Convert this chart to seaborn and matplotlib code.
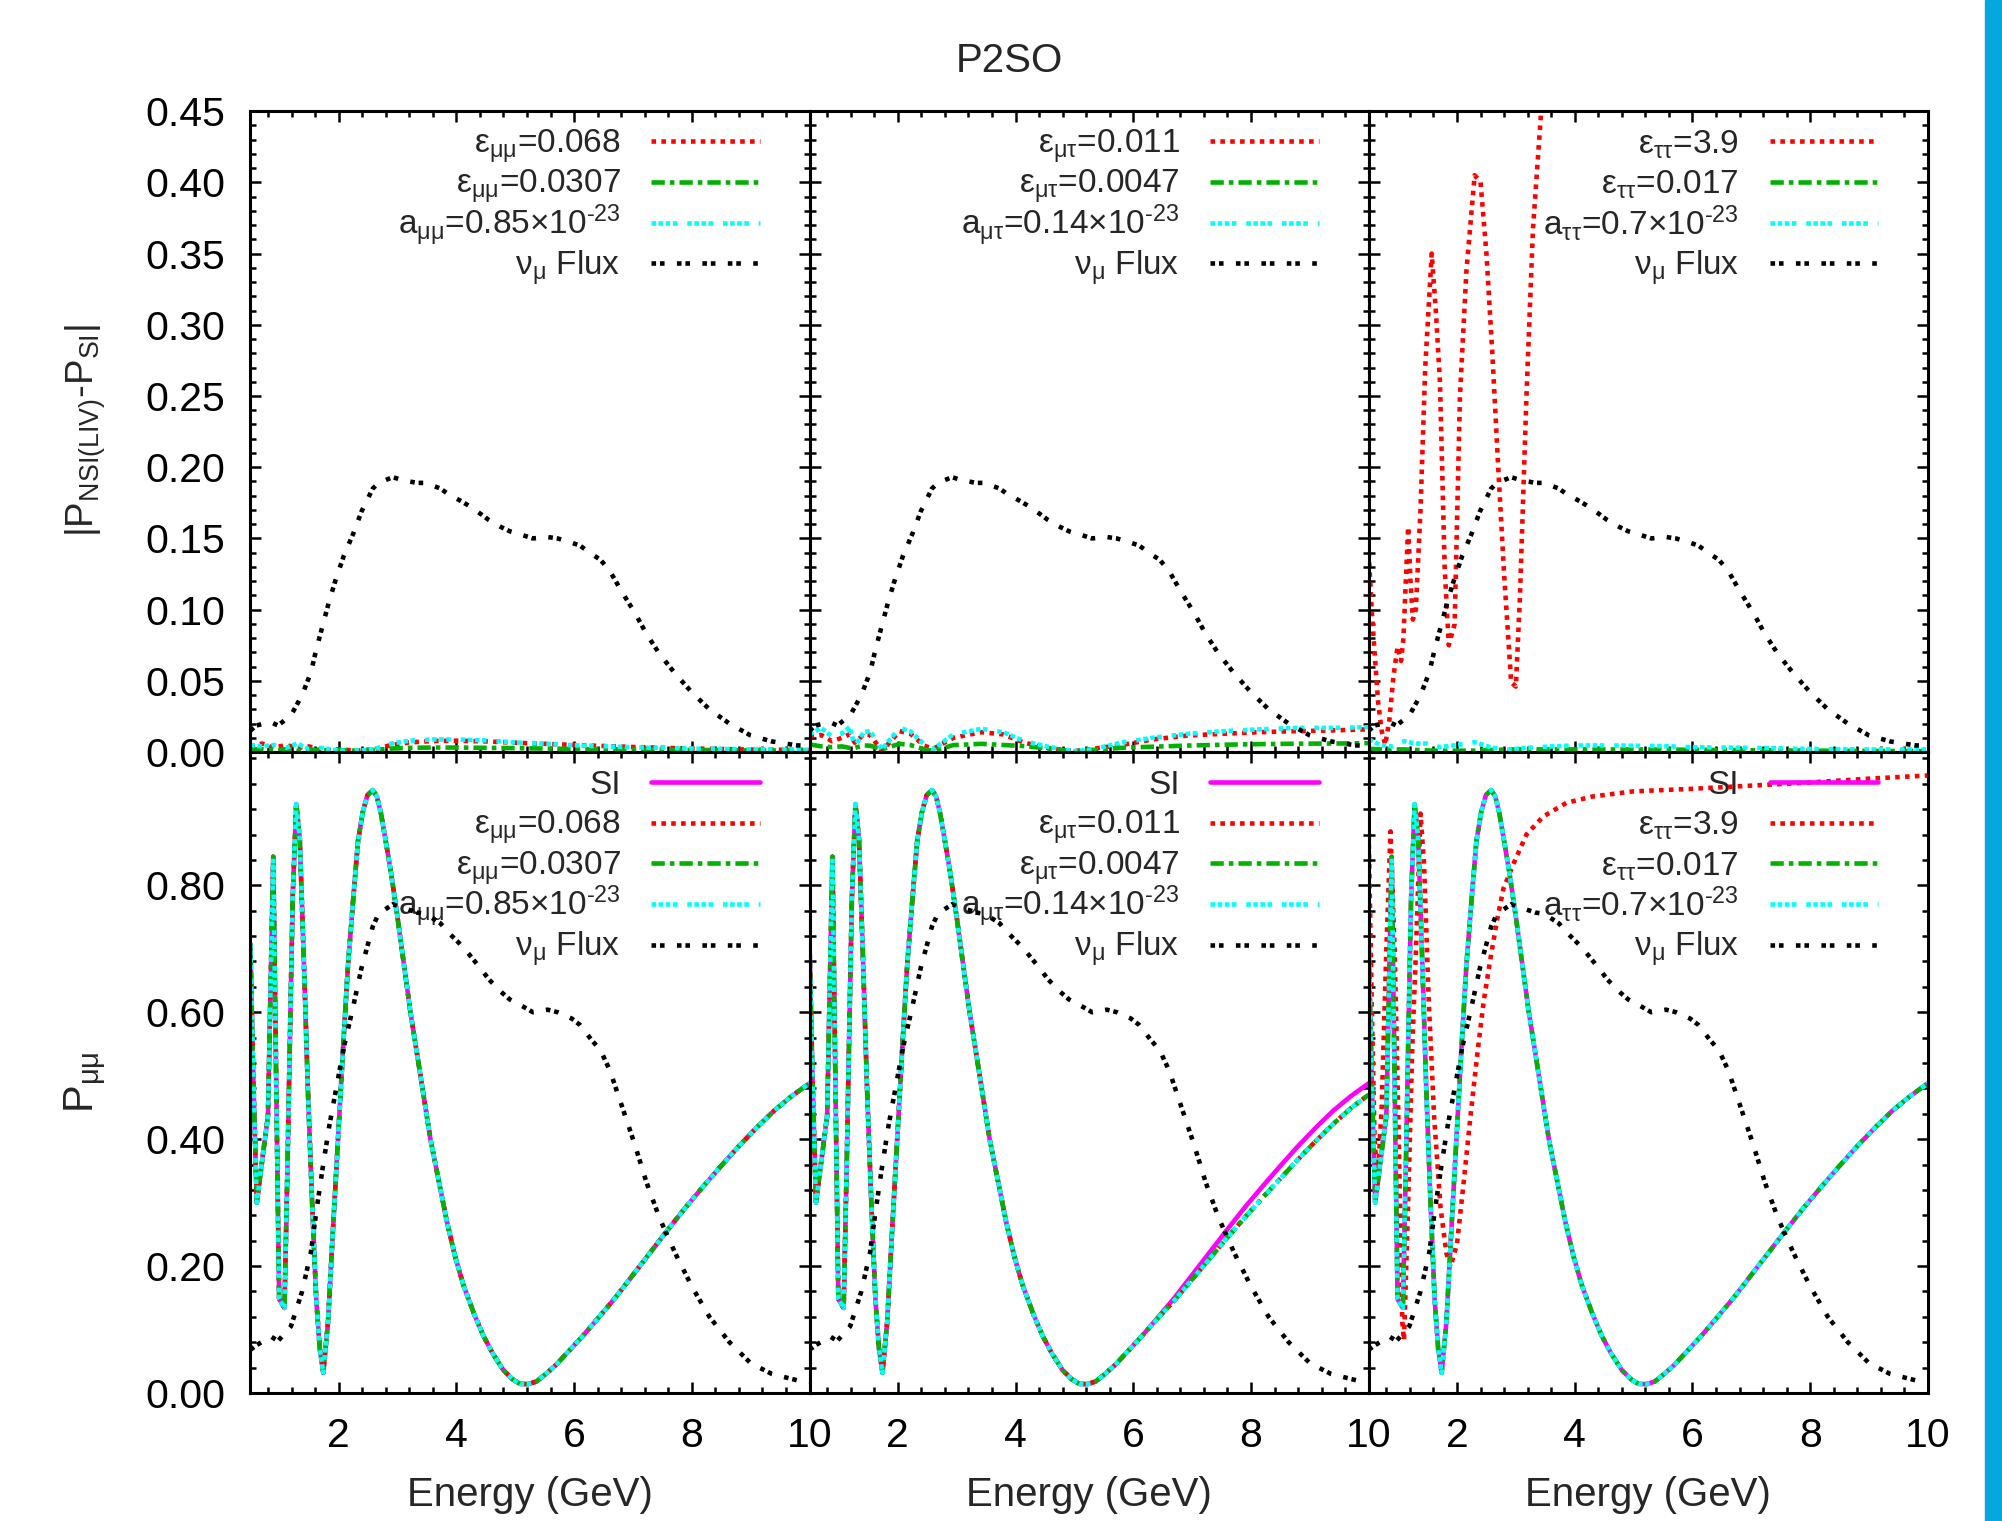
import matplotlib
matplotlib.use("Agg")
import matplotlib.pyplot as plt
from matplotlib.ticker import MultipleLocator, FixedLocator, FormatStrFormatter
from matplotlib.patches import Rectangle
from matplotlib.lines import Line2D
import seaborn as sns

# ---- data ----
# energy grid (GeV) of the P_mumu curves
energy = [0.50, 0.55, 0.61, 0.70, 0.80, 0.84, 0.89, 0.94, 0.99, 1.08,
          1.13, 1.17, 1.22, 1.28, 1.34, 1.41, 1.48, 1.55, 1.62, 1.68,
          1.74, 1.82, 1.90, 1.99, 2.08, 2.16, 2.25, 2.33, 2.41, 2.49,
          2.58, 2.65, 2.72, 2.80, 2.89, 3.00, 3.11, 3.22, 3.34, 3.45,
          3.56, 3.70, 3.84, 3.98, 4.12, 4.30, 4.46, 4.62, 4.80, 4.95,
          5.08, 5.22, 5.36, 5.52, 5.70, 5.90, 6.15, 6.40, 6.70, 7.00,
          7.30, 7.60, 7.90, 8.20, 8.50, 8.80, 9.10, 9.40, 9.70, 10.00]

# standard interactions P_mumu (the NSI/LIV mumu and tautau cases sit on it)
p_si = [0.708, 0.50, 0.30, 0.365, 0.437, 0.62, 0.845, 0.49, 0.148, 0.134,
        0.35, 0.545, 0.78, 0.928, 0.874, 0.68, 0.473, 0.30, 0.148, 0.07,
        0.032, 0.112, 0.25, 0.40, 0.55, 0.675, 0.78, 0.87, 0.915, 0.942,
        0.95, 0.94, 0.913, 0.87, 0.82, 0.75, 0.675, 0.60, 0.53, 0.465,
        0.40, 0.335, 0.27, 0.215, 0.17, 0.125, 0.09, 0.062, 0.036, 0.022,
        0.0144, 0.014, 0.018, 0.03, 0.045, 0.065, 0.09, 0.117, 0.150, 0.186,
        0.222, 0.258, 0.293, 0.326, 0.358, 0.389, 0.418, 0.445, 0.468, 0.488]

# mu-tau NSI / LIV cases (slightly below SI at high energy)
p_mt = [0.708, 0.50, 0.30, 0.365, 0.437, 0.62, 0.845, 0.49, 0.148, 0.134,
        0.35, 0.545, 0.78, 0.928, 0.874, 0.68, 0.473, 0.30, 0.148, 0.07,
        0.032, 0.112, 0.25, 0.40, 0.55, 0.675, 0.78, 0.87, 0.915, 0.942,
        0.95, 0.94, 0.913, 0.87, 0.82, 0.75, 0.675, 0.60, 0.53, 0.465,
        0.40, 0.335, 0.27, 0.215, 0.17, 0.125, 0.09, 0.062, 0.036, 0.022,
        0.0144, 0.014, 0.018, 0.03, 0.045, 0.065, 0.09, 0.116, 0.146, 0.179,
        0.212, 0.245, 0.277, 0.308, 0.338, 0.368, 0.397, 0.424, 0.449, 0.470]

# eps_tautau = 3.9 P_mumu
energy_tt = [0.50, 0.55, 0.60, 0.65, 0.72, 0.80, 0.87, 0.94, 1.00, 1.07,
             1.10, 1.17, 1.24, 1.30, 1.38, 1.44, 1.52, 1.61, 1.72, 1.82,
             1.89, 2.00, 2.11, 2.23, 2.34, 2.45, 2.56, 2.68, 2.79, 2.96,
             3.18, 3.46, 3.86, 4.31, 5.0, 6.0, 7.0, 8.0, 9.0, 10.0]
p_tt_big = [0.88, 0.62, 0.40, 0.33, 0.45, 0.70, 0.885, 0.70, 0.45, 0.112,
            0.083, 0.30, 0.545, 0.69, 0.913, 0.834, 0.617, 0.437, 0.292, 0.22,
            0.199, 0.235, 0.329, 0.437, 0.53, 0.615, 0.68, 0.745, 0.795, 0.834,
            0.88, 0.908, 0.93, 0.94, 0.948, 0.952, 0.957, 0.962, 0.968, 0.973]

# nu_mu flux (arbitrary units, two scalings)
energy_flux = [0.5, 0.6, 0.85, 0.97, 1.19, 1.38, 1.53, 1.62, 1.73, 1.84,
               1.95, 2.09, 2.25, 2.39, 2.58, 2.68, 2.92, 3.08, 3.33, 3.48,
               3.73, 3.85, 4.09, 4.21, 4.42, 4.55, 4.76, 4.91, 5.15, 5.30,
               5.55, 5.72, 5.96, 6.10, 6.30, 6.45, 6.61, 6.82, 7.03, 7.23,
               7.45, 7.72, 8.0, 8.30, 8.64, 9.0, 9.36, 9.79, 10.0]
flux_top = [0.015, 0.0187, 0.021, 0.0187, 0.0257, 0.040, 0.056, 0.072, 0.089, 0.106,
            0.121, 0.138, 0.1535, 0.169, 0.185, 0.189, 0.193, 0.191, 0.189, 0.189,
            0.185, 0.1815, 0.176, 0.173, 0.167, 0.163, 0.158, 0.155, 0.152, 0.150,
            0.151, 0.150, 0.147, 0.145, 0.139, 0.135, 0.127, 0.112, 0.098, 0.083,
            0.069, 0.055, 0.042, 0.030, 0.020, 0.0117, 0.0075, 0.0047, 0.0045]
flux_bottom = [0.068, 0.075, 0.089, 0.082, 0.105, 0.16, 0.222, 0.285, 0.355, 0.42,
               0.475, 0.545, 0.61, 0.67, 0.735, 0.755, 0.77, 0.765, 0.757, 0.755,
               0.74, 0.727, 0.705, 0.692, 0.668, 0.652, 0.632, 0.62, 0.608, 0.600,
               0.604, 0.600, 0.59, 0.58, 0.556, 0.54, 0.508, 0.45, 0.392, 0.332,
               0.276, 0.22, 0.168, 0.12, 0.08, 0.047, 0.03, 0.02, 0.018]

# |P_NSI(LIV) - P_SI|
energy_diff = [0.5, 0.7, 0.9, 1.1, 1.3, 1.5, 1.7, 2.0, 2.3, 2.6, 2.9,
               3.2, 3.6, 4.0, 4.5, 5.0, 5.5, 6.0, 7.0, 8.0, 9.0, 10.0]
d_mm_eps1 = [0.004, 0.006, 0.003, 0.005, 0.003, 0.004, 0.001, 0.002, 0.001, 0.002, 0.005,
             0.0068, 0.0078, 0.008, 0.0075, 0.0066, 0.0058, 0.005, 0.0036, 0.0025, 0.0018, 0.0015]
d_mm_eps2 = [0.002, 0.002, 0.001, 0.002, 0.001, 0.002, 0.001, 0.0015, 0.001, 0.0015, 0.0025,
             0.003, 0.0032, 0.0032, 0.003, 0.0028, 0.0025, 0.0022, 0.0018, 0.0015, 0.0012, 0.001]
d_mm_liv = [0.005, 0.004, 0.005, 0.003, 0.006, 0.002, 0.003, 0.001, 0.001, 0.002, 0.006,
            0.008, 0.0089, 0.0089, 0.0082, 0.0068, 0.006, 0.0048, 0.0034, 0.0025, 0.002, 0.0016]
d_tt_eps2 = [0.0023, 0.002, 0.0019, 0.0019, 0.0015, 0.0012, 0.001, 0.001, 0.001, 0.0015, 0.0019,
             0.0019, 0.0019, 0.0019, 0.0019, 0.0019, 0.0018, 0.0016, 0.0013, 0.001, 0.0008, 0.0007]
d_tt_liv = [0.009, 0.005, 0.004, 0.0077, 0.006, 0.006, 0.0035, 0.005, 0.007, 0.003, 0.0019,
            0.003, 0.004, 0.0047, 0.0047, 0.0045, 0.0042, 0.0035, 0.003, 0.0022, 0.0019, 0.0019]

energy_mt = [0.5, 0.7, 0.88, 1.05, 1.18, 1.27, 1.42, 1.53, 1.73, 2.03, 2.21, 2.45, 2.6, 2.94,
             3.42, 3.79, 4.15, 4.58, 5.0, 5.3, 5.79, 6.33, 6.94, 7.55, 8.15, 8.76, 9.36, 10.0]
d_mt_eps1 = [0.011, 0.012, 0.0077, 0.010, 0.0125, 0.0066, 0.0124, 0.012, 0.0007, 0.0147,
             0.013, 0.0045, 0.0023, 0.010, 0.014, 0.0124, 0.0066, 0.0026, 0.0007, 0.0023,
             0.0049, 0.0089, 0.0117, 0.0129, 0.014, 0.0147, 0.0152, 0.016]
d_mt_eps2 = [0.0054, 0.004, 0.0035, 0.004, 0.003, 0.003, 0.0047, 0.0045, 0.002, 0.0058,
             0.005, 0.002, 0.0007, 0.0049, 0.0058, 0.005, 0.0042, 0.0025, 0.0005, 0.0015,
             0.003, 0.0038, 0.0046, 0.0052, 0.0056, 0.0059, 0.006, 0.0063]
d_mt_liv = [0.0124, 0.017, 0.011, 0.013, 0.0175, 0.004, 0.014, 0.0147, 0.002, 0.017,
            0.0147, 0.0054, 0.002, 0.0124, 0.0164, 0.014, 0.0077, 0.0035, 0.0007, 0.0019,
            0.0066, 0.0101, 0.0129, 0.0147, 0.016, 0.017, 0.017, 0.0175]

energy_tt_diff = [0.50, 0.55, 0.60, 0.66, 0.72, 0.78, 0.85, 0.92, 0.99, 1.05,
                  1.09, 1.13, 1.17, 1.21, 1.25, 1.30, 1.38, 1.46, 1.57, 1.64,
                  1.71, 1.79, 1.86, 1.96, 2.05, 2.16, 2.30, 2.40, 2.50, 2.60,
                  2.70, 2.80, 2.92, 3.00, 3.07, 3.18, 3.29, 3.43, 3.55]
d_tt_eps1 = [0.14, 0.10, 0.07, 0.035, 0.015, 0.005, 0.022, 0.053, 0.074, 0.064,
             0.08, 0.12, 0.158, 0.12, 0.093, 0.10, 0.17, 0.27, 0.35, 0.31,
             0.26, 0.13, 0.075, 0.09, 0.25, 0.338, 0.405, 0.40, 0.35, 0.28,
             0.20, 0.125, 0.049, 0.046, 0.11, 0.25, 0.367, 0.45, 0.55]

# legend texts
keys_mm = [r'ε$_{\mathrm{μμ}}$=0.068', r'ε$_{\mathrm{μμ}}$=0.0307',
           r'a$_{\mathrm{μμ}}$=0.85×10$^{\text{-23}}$']
keys_mt = [r'ε$_{\mathrm{μτ}}$=0.011', r'ε$_{\mathrm{μτ}}$=0.0047',
           r'a$_{\mathrm{μτ}}$=0.14×10$^{\text{-23}}$']
keys_tt = [r'ε$_{\mathrm{ττ}}$=3.9', r'ε$_{\mathrm{ττ}}$=0.017',
           r'a$_{\mathrm{ττ}}$=0.7×10$^{\text{-23}}$']
flux_key = r'ν$_{\mathrm{μ}}$ Flux'

# ---- style ----
sns.set_theme(style="ticks")
plt.rcParams['font.family'] = ['Liberation Sans', 'DejaVu Sans']
plt.rcParams['mathtext.fontset'] = 'custom'
plt.rcParams['mathtext.rm'] = 'Liberation Sans'
plt.rcParams['mathtext.it'] = 'Liberation Sans:italic'
plt.rcParams['mathtext.bf'] = 'Liberation Sans:bold'
plt.rcParams['axes.linewidth'] = 2.2
plt.rcParams['axes.edgecolor'] = 'black'

LW = 3.3
s_si = dict(color='#ff00ff', linewidth=LW, linestyle='-')
s_e1 = dict(color='#ff0000', linewidth=LW, linestyle=(0, (1, 1.15)))
s_e2 = dict(color='#00b200', linewidth=LW, linestyle=(0, (2.9, 1.1, 1, 1.1)))
s_liv = dict(color='#00ffff', linewidth=LW, linestyle=(0, (1, 0.55, 1, 0.55, 1, 0.55, 1, 2.15)))
s_flux = dict(color='black', linewidth=LW, linestyle=(0, (1, 0.85, 1, 2.7)))

fig = plt.figure(figsize=(20.02, 15.21), dpi=100)
lefts = [0.12503, 0.40435, 0.68367]
width = 0.27932
height = 0.42143
AX_H_PX = 641.0


def draw(ax, x, y, style):
    sns.lineplot(x=x, y=y, ax=ax, estimator=None, sort=False, legend=False, **style)
    line = ax.get_lines()[-1]
    line.set_dash_capstyle('butt')
    return line


def add_key(ax, styles, labels):
    # gnuplot-like key: right-justified text, sample to its right
    for j, (st, lab) in enumerate(zip(styles, labels)):
        y = 1 - (30 + 40.7 * j) / AX_H_PX
        ax.text(0.662, y - 12 / AX_H_PX, lab, transform=ax.transAxes,
                ha='right', va='baseline', fontsize=24, zorder=1)
        sample = Line2D([0.717, 0.911], [y, y], transform=ax.transAxes,
                        clip_on=False, zorder=3, dash_capstyle='butt', **st)
        ax.add_line(sample)


def style_axes(ax, top, first):
    ax.set_xlim(0.5, 10)
    ax.xaxis.set_major_locator(FixedLocator([2, 4, 6, 8, 10]))
    ax.xaxis.set_minor_locator(MultipleLocator(0.4))
    if top:
        ax.set_ylim(0, 0.45)
        ax.yaxis.set_major_locator(MultipleLocator(0.05))
        ax.yaxis.set_minor_locator(MultipleLocator(0.01))
    else:
        ax.set_ylim(0, 1.01)
        ax.yaxis.set_major_locator(FixedLocator([0, 0.2, 0.4, 0.6, 0.8]))
        ax.yaxis.set_minor_locator(MultipleLocator(0.04))
    ax.yaxis.set_major_formatter(FormatStrFormatter('%.2f'))
    ax.tick_params(which='both', direction='in', top=True, right=True,
                   colors='black', width=1.8, labelsize=29.5)
    ax.tick_params(which='major', length=8)
    ax.tick_params(which='minor', length=4)
    ax.tick_params(axis='x', pad=17)
    ax.tick_params(axis='y', pad=18)
    ax.tick_params(labelbottom=not top, labelleft=first)
    ax.set_xlabel('')
    ax.set_ylabel('')
    for sp in ax.spines.values():
        sp.set_visible(True)
        sp.set_linewidth(2.2)


panels = [
    (keys_mm, [(energy_diff, d_mm_eps1), (energy_diff, d_mm_eps2), (energy_diff, d_mm_liv)],
     [(energy, p_si), (energy, p_si), (energy, p_si)]),
    (keys_mt, [(energy_mt, d_mt_eps1), (energy_mt, d_mt_eps2), (energy_mt, d_mt_liv)],
     [(energy, p_mt), (energy, p_mt), (energy, p_mt)]),
    (keys_tt, [(energy_tt_diff, d_tt_eps1), (energy_diff, d_tt_eps2), (energy_diff, d_tt_liv)],
     [(energy_tt, p_tt_big), (energy, p_si), (energy, p_si)]),
]

for i, (keys, diffs, probs) in enumerate(panels):
    ax_t = fig.add_axes([lefts[i], 0.50552, width, height])
    ax_b = fig.add_axes([lefts[i], 0.08416, width, height])

    for (x, y), st in zip(diffs, [s_e1, s_e2, s_liv]):
        draw(ax_t, x, y, st)
    draw(ax_t, energy_flux, flux_top, s_flux)
    add_key(ax_t, [s_e1, s_e2, s_liv, s_flux], keys + [flux_key])
    style_axes(ax_t, True, i == 0)

    draw(ax_b, energy, p_si, s_si)
    for (x, y), st in zip(probs, [s_e1, s_e2, s_liv]):
        draw(ax_b, x, y, st)
    draw(ax_b, energy_flux, flux_bottom, s_flux)
    add_key(ax_b, [s_si, s_e1, s_e2, s_liv, s_flux], ['SI'] + keys + [flux_key])
    style_axes(ax_b, False, i == 0)
    ax_b.set_xlabel('Energy (GeV)', fontsize=29)
    ax_b.xaxis.set_label_coords(0.5, -0.13)

fig.text(0.504, 1 - 61 / 1521, 'P2SO', ha='center', va='center', fontsize=29)
fig.text(0.043, 1 - 431 / 1521, r'|P$_{\mathrm{NSI(LIV)}}$-P$_{\mathrm{SI}}$|',
         rotation=90, ha='center', va='center', fontsize=27.5)
fig.text(0.043, 1 - 1082 / 1521, r'P$_{\mathrm{μμ}}$',
         rotation=90, ha='center', va='center', fontsize=30)

# blue strip on the right edge
fig.add_artist(Rectangle((1985 / 2002, 0), 17 / 2002, 1, transform=fig.transFigure,
                         color='#05a8dc', zorder=0))

fig.savefig('out.png', dpi=100, facecolor='white')
